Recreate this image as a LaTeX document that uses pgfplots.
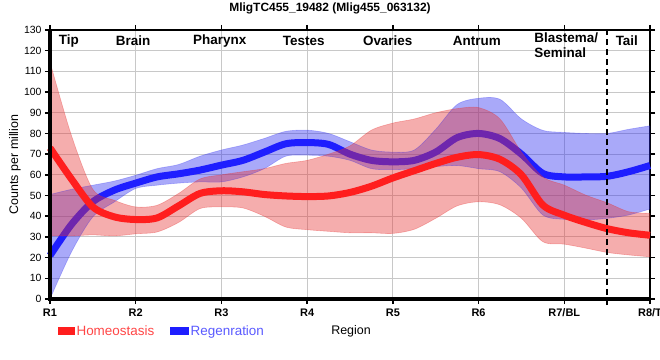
\documentclass[border=0pt]{standalone}
\usepackage{fontspec}
\setmainfont{Liberation Sans}
\usepackage{pgfplots}
\pgfplotsset{compat=1.18}
\usepackage{pgfplotstable}
\usepgfplotslibrary{fillbetween}

\definecolor{hline}{RGB}{255,30,30}
\definecolor{hband}{RGB}{230,50,50}
\definecolor{rline}{RGB}{30,30,255}
\definecolor{rband}{RGB}{40,40,240}
\definecolor{gridc}{RGB}{200,200,200}
\definecolor{legH}{RGB}{255,70,70}
\definecolor{legR}{RGB}{90,90,255}

\pgfplotstableread{
x     H     Hlo   Hhi    R     Rlo   Rhi
1     73    30.5  114.5  21    0     50.5
1.25  58    30.5  79     36    22.7  53
1.5   44.5  31    53     47    39.7  55
1.75  39.7  30.5  47.7   52.6  46.9  57
2     38.4  31.5  44.5   56    53.4  59.8
2.25  39.2  32.4  45.3   59    55    63
2.5   45    37    51     60.5  56    65
2.75  51    43.7  58     62.3  56.6  69
3     52.3  44.5  60     64.7  56.6  72
3.25  51.8  44    61.5   67    59    74.4
3.5   50.5  40    63     71    63    77.6
3.75  49.8  34.8  65.5   75    69    81
4     49.5  33.5  67     75.6  69.5  81.6
4.25  49.8  32.7  70     74.7  69    80
4.5   51.5  32    74     70    67    76
4.75  54.5  32    81.6   67    63    72
5     58.5  31.7  85     66.3  62.5  71
5.25  62    33.7  87     67    63    72
5.5   65.5  39    90     71    64    82
5.75  68.5  45    92     78    64.5  94
6     69.8  47    92.5   80    63    97
6.25  67.5  45.5  87     77.5  61.5  96.5
6.5   60    39    71     70    53.6  87
6.75  45.4  27.7  59     60.7  40.6  81.5
7     40.5  26.5  55     59    38.5  80.5
7.25  37    24.6  50.2   59    38.2  80
7.5   34    22.5  46.5   59.3  39    80
7.75  32    21.3  42.2   61.5  40.6  82
8     30.8  20.4  41.4   64.5  43.5  83.7
}\data

\begin{document}
\begin{tikzpicture}
\begin{axis}[
  set layers,
  scale only axis, width=600bp, height=269bp,
  at={(0bp,0bp)}, anchor=south west,
  xmin=1, xmax=8, ymin=0, ymax=130,
  clip=false,
  xtick={1,2,3,4,5,6,7,8},
  xticklabels={R1,R2,R3,R4,R5,R6,R7/BL,R8/T},
  ytick={0,10,...,130},
  grid=major, grid style={gridc, line width=0.9bp},
  axis line style={black, line width=1.2bp},
  tick style={black, line width=1.5bp}, tick align=outside, major tick length=5bp,
  xticklabel style={font=\fontsize{11}{12}\selectfont\bfseries, yshift=-1bp},
  yticklabel style={font=\fontsize{10.5}{12}\selectfont},
  /pgf/number format/assume math mode=true,
  ylabel={Counts per million},
  ylabel style={font=\fontsize{12.5}{14}\selectfont, at={(axis description cs:-0.0583,0.5)}, anchor=center},
  xlabel={Region},
  xlabel style={font=\fontsize{12.5}{14}\selectfont, at={(axis description cs:0.5017,-0.119)}, anchor=center},
  legend style={at={(axis description cs:0.0083,-0.119)}, anchor=west, draw=none, fill=none,
    font=\fontsize{13.5}{15}\selectfont, legend columns=2,
    /tikz/every even column/.append style={column sep=14bp}},
  legend cell align=left,
]
% Regeneration band
\addplot[name path=Rhi, smooth, draw=rband, draw opacity=0.3, line width=0.6bp, forget plot] table[x=x,y=Rhi] {\data};
\addplot[name path=Rlo, smooth, draw=rband, draw opacity=0.3, line width=0.6bp, forget plot] table[x=x,y=Rlo] {\data};
\addplot[rband, fill opacity=0.4, draw=none, forget plot] fill between[of=Rhi and Rlo];
% Regeneration line
\addplot[rline, line width=7bp, smooth, on layer=pre main, forget plot] table[x=x,y=R] {\data};
% Homeostasis band
\addplot[name path=Hhi, smooth, draw=hband, draw opacity=0.35, line width=0.6bp, forget plot] table[x=x,y=Hhi] {\data};
\addplot[name path=Hlo, smooth, draw=hband, draw opacity=0.35, line width=0.6bp, forget plot] table[x=x,y=Hlo] {\data};
\addplot[hband, fill opacity=0.4, draw=none, forget plot] fill between[of=Hhi and Hlo];
% Homeostasis line
\addplot[hline, line width=7bp, smooth, forget plot] table[x=x,y=H] {\data};
% legend entries
\addlegendimage{legend image code/.code={\fill[hline] (0bp,-3.5bp) rectangle (16bp,3.5bp);}}
\addlegendentry{\textcolor{legH}{Homeostasis}}
\addlegendimage{legend image code/.code={\fill[rline] (0bp,-3.5bp) rectangle (18bp,3.5bp);}}
\addlegendentry{\textcolor{legR}{Regenration}}
% dashed separator
\addplot[black, line width=2.5bp, dash pattern=on 6bp off 4bp, forget plot] coordinates {(7.5,-3) (7.5,130)};
% region names
\begin{scope}[font=\fontsize{13.5}{15}\selectfont\bfseries]
\node at (axis cs:1.22,124.6) {Tip};
\node at (axis cs:1.97,124.6) {Brain};
\node at (axis cs:2.98,124.6) {Pharynx};
\node at (axis cs:3.96,124.6) {Testes};
\node at (axis cs:4.94,124.6) {Ovaries};
\node at (axis cs:5.98,124.6) {Antrum};
\node[anchor=north west, align=left, inner sep=0pt, font=\fontsize{13.5}{14.5}\selectfont\bfseries] at (axis cs:6.65,128.6) {Blastema/\\Seminal};
\node at (axis cs:7.73,124.6) {Tail};
\end{scope}
\draw[black, line width=3bp] (rel axis cs:0,1) -- (rel axis cs:0,0) -- (rel axis cs:1,0);
\end{axis}
\node[font=\fontsize{12}{14}\selectfont\bfseries] at (280bp,291bp) {MligTC455\_19482 (Mlig455\_063132)};
\pgfresetboundingbox
\path[use as bounding box] (-50bp,-61bp) rectangle (610bp,299bp);
\end{tikzpicture}
\end{document}
